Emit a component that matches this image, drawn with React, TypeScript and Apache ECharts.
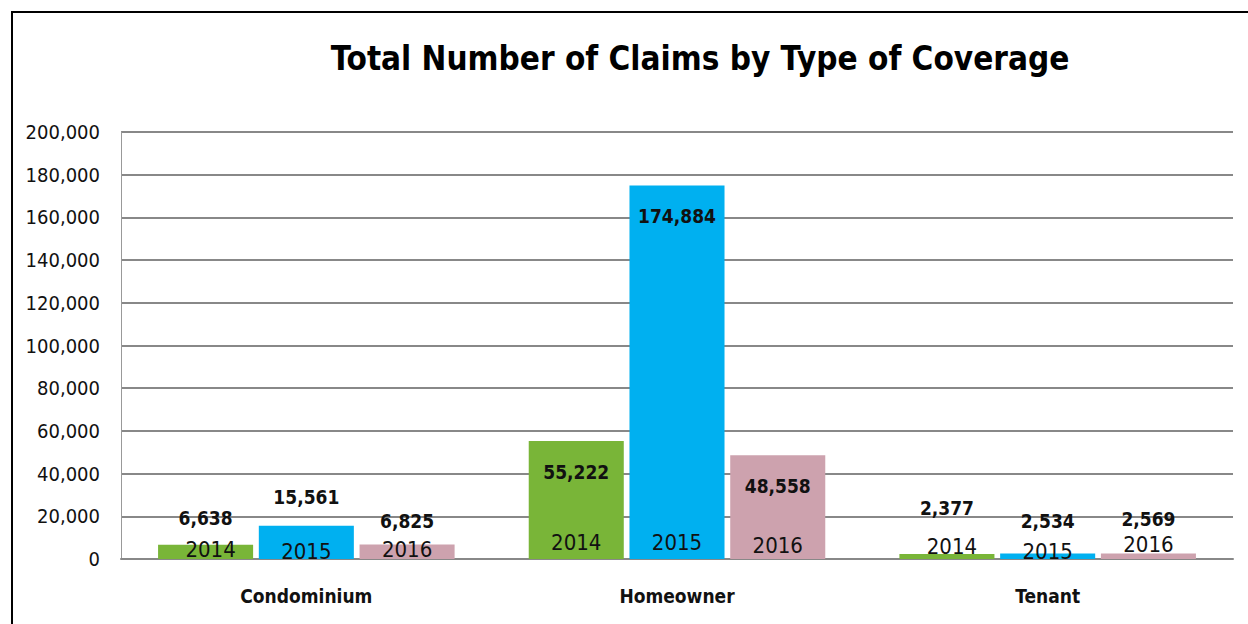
import React, { useEffect, useRef } from "react";
import * as echarts from "echarts";

const categories = ["Condominium", "Homeowner", "Tenant"];
const years = ["2014", "2015", "2016"];
const values2014 = [6638, 55222, 2377];
const values2015 = [15561, 174884, 2534];
const values2016 = [6825, 48558, 2569];
const yTicks = { min: 0, max: 200000, interval: 20000 };

const colors = ["#79b538", "#00b0f0", "#cda2ae"];
const FONT = "'DejaVu Sans Condensed', 'Liberation Sans Narrow', sans-serif";

// label placement tweaks (positions only)
const valueLabelPlace = [
  [{ pos: "top", d: 17 }, { pos: "insideTop", d: 21 }, { pos: "top", d: 36 }],
  [{ pos: "top", d: 19 }, { pos: "insideTop", d: 21 }, { pos: "top", d: 23 }],
  [{ pos: "top", d: 14 }, { pos: "insideTop", d: 21 }, { pos: "top", d: 25 }],
];
const yearLabelOffset = [
  [[5, 1], [0, -6], [5, -2]],
  [[0, 3], [0, -6], [0, 3]],
  [[0, 1], [0, -3], [0, -4]],
];

export default function App() {
  const ref = useRef<HTMLDivElement>(null);
  useEffect(() => {
    document.body.style.margin = "0";
    const chart = echarts.init(ref.current!, undefined, { renderer: "svg" });
    const all = [values2014, values2015, values2016];
    const series: any[] = [];
    all.forEach((vals, si) => {
      series.push({
        type: "bar",
        name: years[si],
        stack: "s" + years[si],
        data: vals.map((v, ci) => ({
          value: v,
          label: {
            show: true,
            position: "insideBottom",
            distance: 0,
            offset: yearLabelOffset[si][ci],
            formatter: years[si],
            fontFamily: FONT,
            fontSize: 22,
            color: "#111",
          },
        })),
        itemStyle: { color: colors[si] },
        barCategoryGap: "20%",
        barGap: "6%",
      });
      series.push({
        type: "bar",
        name: years[si] + "v",
        stack: "s" + years[si],
        data: vals.map((v, ci) => ({
          value: 0,
          label: {
            show: true,
            position: valueLabelPlace[si][ci].pos,
            distance: valueLabelPlace[si][ci].d,
            formatter: v.toLocaleString("en-US"),
            fontFamily: FONT,
            fontSize: 19,
            fontWeight: "bold",
            color: "#111",
          },
        })),
        itemStyle: { color: "transparent" },
        barCategoryGap: "20%",
        barGap: "6%",
      });
    });
    chart.setOption({
      animation: false,
      backgroundColor: "#fff",
      title: {
        text: "Total Number of Claims by Type of Coverage",
        left: 695,
        top: 37,
        textAlign: "center",
        textStyle: { fontFamily: FONT, fontSize: 33, fontWeight: "bold", color: "#000" },
      },
      grid: { left: 121, right: 15, top: 132, bottom: 65, containLabel: false },
      xAxis: {
        type: "category",
        data: categories,
        axisLine: { lineStyle: { color: "#888", width: 2 } },
        axisTick: { show: false },
        axisLabel: { fontFamily: FONT, fontSize: 19, fontWeight: "bold", color: "#111", margin: 27 },
      },
      yAxis: {
        type: "value",
        min: yTicks.min,
        max: yTicks.max,
        interval: yTicks.interval,
        axisLine: { show: true, lineStyle: { color: "#999", width: 1 } },
        axisTick: { show: false },
        splitLine: { lineStyle: { color: "#888", width: 2 } },
        axisLabel: {
          fontFamily: FONT,
          fontSize: 20,
          color: "#111",
          margin: 21,
          formatter: (v: number) => v.toLocaleString("en-US"),
        },
      },
      graphic: [
        {
          type: "polyline",
          shape: { points: [[12, 624], [12, 12], [1248, 12]] },
          style: { stroke: "#000", lineWidth: 2, fill: "none" },
        },
      ],
      series,
    });
    return () => chart.dispose();
  }, []);
  return <div ref={ref} style={{ width: 1248, height: 624 }} />;
}
